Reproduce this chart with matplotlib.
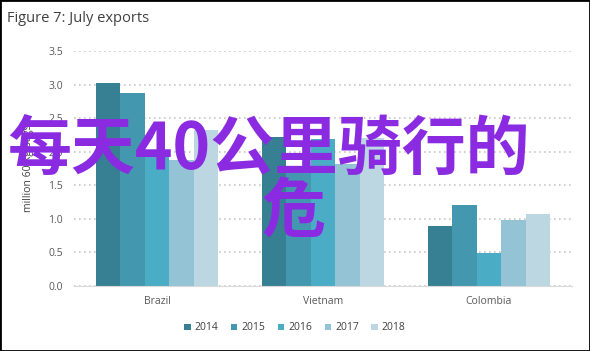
import matplotlib as mpl
import matplotlib.pyplot as plt
import numpy as np

mpl.rcParams['font.family'] = ['Open Sans', 'DejaVu Sans']

countries = ['Brazil', 'Vietnam', 'Colombia']
years = ['2014', '2015', '2016', '2017', '2018']
exports = {
    '2014': [3.03, 2.22, 0.89],
    '2015': [2.88, 1.75, 1.20],
    '2016': [1.95, 2.19, 0.49],
    '2017': [1.87, 1.82, 0.99],
    '2018': [2.32, 2.20, 1.07],
}
colors = ['#377f92', '#4397ae', '#4bacc6', '#93c3d5', '#bcd7e2']
yticks = [0.0, 0.5, 1.0, 1.5, 2.0, 2.5, 3.0, 3.5]

fig = plt.figure(figsize=(5.9, 3.51), dpi=100)
ax = fig.add_axes([74 / 590, 1 - 286 / 351, 498 / 590, 235 / 351])

x = np.arange(len(countries))
w = 0.148
for i, y in enumerate(years):
    ax.bar(x + (i - 2) * w, exports[y], width=w, color=colors[i], label=y, zorder=2)

ax.set_xlim(-0.5, len(countries) - 0.5)
ax.set_ylim(0, 3.5)
ax.set_yticks(yticks)
ax.set_yticklabels([f'{v:.1f}' for v in yticks])
ax.set_xticks(x)
ax.set_xticklabels(countries)
ax.tick_params(length=0, labelsize=7.5, colors='#595959', pad=8)
ax.tick_params(axis='x', pad=7)
ax.yaxis.grid(True, linestyle=(0, (1, 2)), color='#c8c8c8', linewidth=1.2, zorder=0)
for s in ['top', 'right', 'left']:
    ax.spines[s].set_visible(False)
ax.spines['bottom'].set_color('#d9d9d9')
ax.set_ylabel('million 60-kg bags', fontsize=7.5, color='#404040', labelpad=10)

fig.text(7 / 590, 1 - 18 / 351, 'Figure 7: July exports', fontsize=10.5, color='#404040', va='center', ha='left')

fig.legend(loc='center', bbox_to_anchor=(0.5, 1 - 328 / 351), ncol=5, frameon=False,
           fontsize=7.5, handlelength=0.6, handleheight=0.6, handletextpad=0.4,
           columnspacing=1.2, labelcolor='#404040')

# purple overlay text
fig.text(268 / 590, 1 - 150 / 351, '每天40公里骑行的', fontsize=46, color='#8a2be2',
         ha='center', va='center', family=['Noto Sans CJK SC', 'DejaVu Sans'], weight='bold', zorder=10)
fig.text(294 / 590, 1 - 213 / 351, '危', fontsize=46, color='#8a2be2',
         ha='center', va='center', family=['Noto Sans CJK SC', 'DejaVu Sans'], weight='bold', zorder=10)

fig.patches.append(mpl.patches.Rectangle((0, 0), 1, 1, transform=fig.transFigure, fill=False,
                                         edgecolor='black', linewidth=2, zorder=20))

fig.savefig('out.png', dpi=100)
